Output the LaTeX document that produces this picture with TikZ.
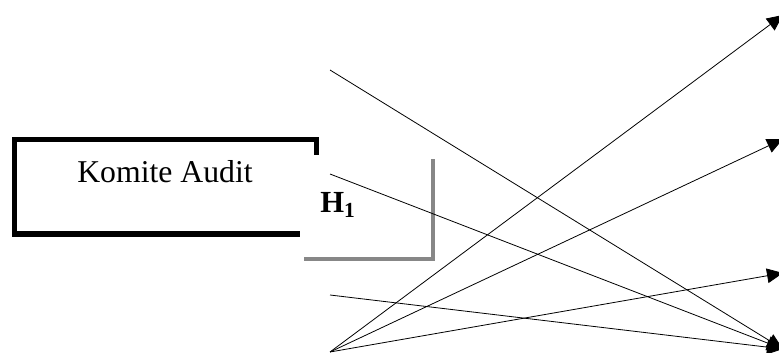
\documentclass[tikz,border=0pt]{standalone}
\usepackage{fontspec}
\setmainfont{Liberation Serif}
\usetikzlibrary{arrows.meta}
\begin{document}
\begin{tikzpicture}[x=0.75pt,y=-0.75pt,
  conn/.style={line width=0.6pt,-{Triangle[length=12pt,width=11pt]}},
  blackbox/.style={draw=black,line width=3.8pt,minimum width=226.5pt,minimum height=70.9pt,inner sep=0pt},
  hbox/.style={fill=white,minimum width=98.3pt,minimum height=76.5pt,inner sep=0pt},
  hshadow/.style={fill=black!47,minimum width=98.3pt,minimum height=76.5pt,inner sep=0pt},
  lbl/.style={inner sep=0pt,font=\fontsize{23.8}{28}\selectfont},
  hlbl/.style={inner sep=0pt,font=\fontsize{23}{27}\selectfont\bfseries}]
\useasboundingbox (0,0) rectangle (779,353);
\node[blackbox] (ka) at (165.5,186.75) {};
\node[hshadow] (hs) at (369.5,210) {};
\node[hbox] (hb) at (365.5,206) {};
\node[lbl] (kat) at (165,172) {Komite Audit};
\node[hlbl] (h1) at (338,205) {H\textsubscript{1}};
\coordinate (sA) at (330,70);
\coordinate (sB) at (330,174);
\coordinate (sC) at (330,295);
\coordinate (sD) at (330,352);
\coordinate (t1) at (783,15);
\coordinate (t2) at (783,139);
\coordinate (t3) at (783,273);
\coordinate (t4) at (783,349);
\draw[conn] (sD) -- (t1);
\draw[conn] (sD) -- (t2);
\draw[conn] (sD) -- (t3);
\draw[conn] (sA) -- (t4);
\draw[conn] (sB) -- (t4);
\draw[conn] (sC) -- (t4);
\end{tikzpicture}
\end{document}
